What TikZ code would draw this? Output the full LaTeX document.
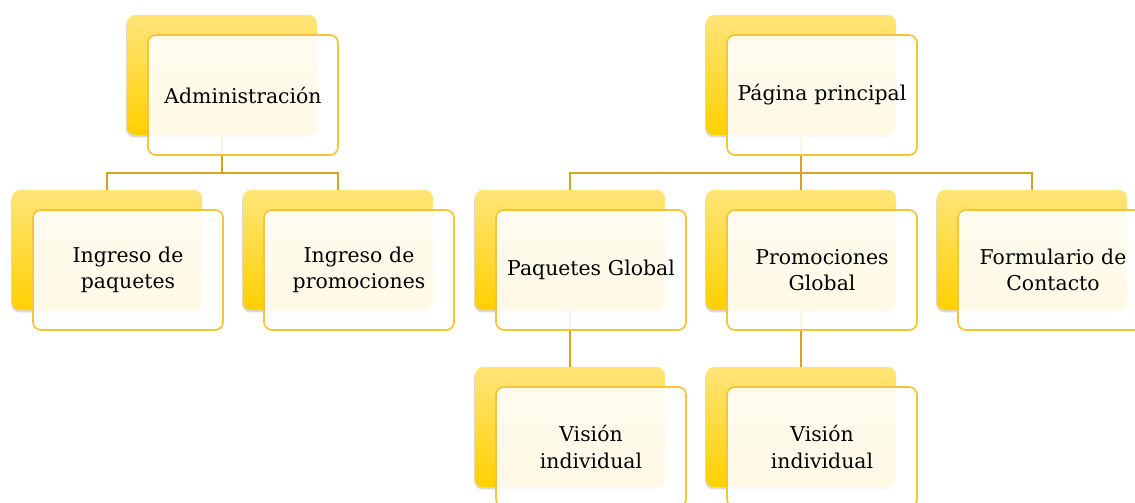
\documentclass[tikz,border=0pt]{standalone}
\usepackage{fontspec}
\setmainfont{DejaVu Serif}
\usepackage{tikz}
\usetikzlibrary{calc, positioning, shadows}
\definecolor{boxtop}{HTML}{FFE57A}
\definecolor{boxbot}{HTML}{FFD000}
\definecolor{rim}{HTML}{F5C437}
\definecolor{wire}{HTML}{D9A21C}
\tikzset{
    back/.style = {rectangle, rounded corners=0.2cm, minimum width=4.75cm, minimum height=3cm, top color=boxtop, bottom color=boxbot, draw=none,
        drop shadow={shadow xshift=-0.6pt, shadow yshift=-1.6pt, opacity=0.25, fill=black!60}}, % yellow card behind
    front/.style = {rectangle, rounded corners=0.2cm, minimum width=4.75cm, minimum height=3cm, draw=rim, line width=1.2pt,
        fill=white, fill opacity=0.9, text opacity=1, align=center, text width=4.55cm, inner xsep=0.05cm,
        font=\fontsize{14.5}{19}\selectfont}, % white card with the text
    link/.style = {draw=wire, line width=1.4pt}
}
\begin{document}
\begin{tikzpicture}[x=0.025cm, y=-0.025cm]
    \useasboundingbox (0,0) rectangle (1135,502);
    % yellow cards
    \node[back] (adm) at (222,75) {};
    \node[back] (pag) at (801,75) {};
    \node[back] (ingp) at (107,250) {};
    \node[back] (ingr) at (338,250) {};
    \node[back] (paq) at (570,250) {};
    \node[back] (pro) at (801,250) {};
    \node[back] (form) at (1032,250) {};
    \node[back] (vis1) at (570,427) {};
    \node[back] (vis2) at (801,427) {};
    % connectors
    \coordinate (adm-j) at (222,173);
    \coordinate (pag-j) at (801,173);
    \draw[link] (adm.south) -- (adm-j);
    \draw[link] (ingp.north) |- (adm-j) -| (ingr.north);
    \draw[link] (pag.south) -- (pro.north);
    \draw[link] (paq.north) |- (pag-j) -| (form.north);
    \draw[link] (paq.south) -- (vis1.north);
    \draw[link] (pro.south) -- (vis2.north);
    % white cards
    \node[front] (adm-t) at ([xshift=0.525cm, yshift=-0.5cm]adm.center) {Administración};
    \node[front] (pag-t) at ([xshift=0.525cm, yshift=-0.5cm]pag.center) {Página principal};
    \node[front] (ingp-t) at ([xshift=0.525cm, yshift=-0.5cm]ingp.center) {Ingreso de\\paquetes};
    \node[front] (ingr-t) at ([xshift=0.525cm, yshift=-0.5cm]ingr.center) {Ingreso de\\promociones};
    \node[front] (paq-t) at ([xshift=0.525cm, yshift=-0.5cm]paq.center) {Paquetes Global};
    \node[front] (pro-t) at ([xshift=0.525cm, yshift=-0.5cm]pro.center) {Promociones\\Global};
    \node[front] (form-t) at ([xshift=0.525cm, yshift=-0.5cm]form.center) {Formulario de\\Contacto};
    \node[front] (vis1-t) at ([xshift=0.525cm, yshift=-0.5cm]vis1.center) {Visión\\individual};
    \node[front] (vis2-t) at ([xshift=0.525cm, yshift=-0.5cm]vis2.center) {Visión\\individual};
\end{tikzpicture}
\end{document}
